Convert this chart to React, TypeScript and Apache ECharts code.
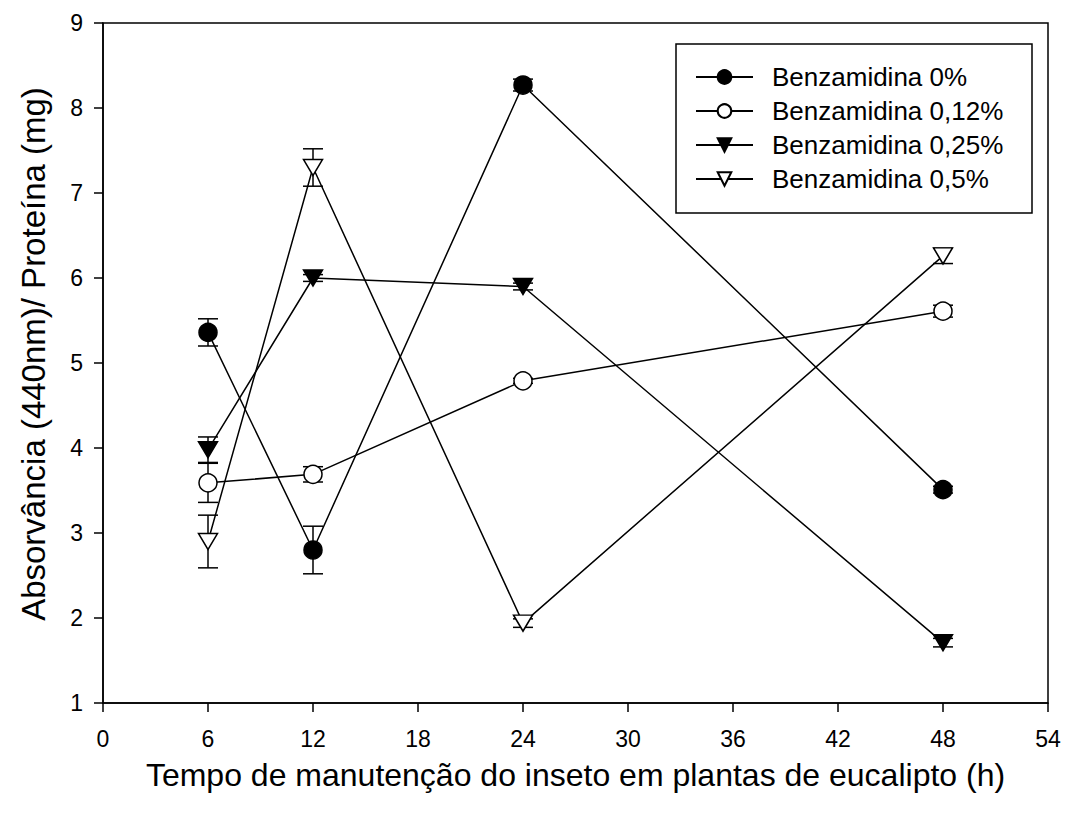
import React, { useEffect, useRef } from "react";
import * as echarts from "echarts";

// Sampling times (h)
const times = [6, 12, 24, 48];

// Absorbance / protein means and standard errors per benzamidine dose
const mean0 = [5.36, 2.8, 8.27, 3.51];
const err0 = [0.16, 0.28, 0.07, 0.04];
const mean012 = [3.59, 3.69, 4.79, 5.61];
const err012 = [0.23, 0.09, 0.03, 0.07];
const mean025 = [3.98, 6.0, 5.9, 1.71];
const err025 = [0.15, 0.04, 0.04, 0.05];
const mean05 = [2.9, 7.3, 1.94, 6.26];
const err05 = [0.31, 0.22, 0.05, 0.09];

const seriesNames = [
  "Benzamidina 0%",
  "Benzamidina 0,12%",
  "Benzamidina 0,25%",
  "Benzamidina 0,5%",
];

const xTicks = [0, 6, 12, 18, 24, 30, 36, 42, 48, 54];
const yTicks = [1, 2, 3, 4, 5, 6, 7, 8, 9];

const FONT = "'Liberation Sans', Arial, Helvetica, sans-serif";
const TRI_DOWN = "path://M0,0 L20,0 L10,17 Z";

export default function App() {
  const ref = useRef<HTMLDivElement>(null);

  useEffect(() => {
    if (!ref.current) return;
    const chart = echarts.init(ref.current, undefined, { renderer: "svg" });

    const groups = [
      { name: seriesNames[0], mean: mean0, err: err0, symbol: "circle", size: 18, fill: "#000" },
      { name: seriesNames[1], mean: mean012, err: err012, symbol: "circle", size: 18, fill: "#fff" },
      { name: seriesNames[2], mean: mean025, err: err025, symbol: TRI_DOWN, size: [19, 16], fill: "#000" },
      { name: seriesNames[3], mean: mean05, err: err05, symbol: TRI_DOWN, size: [19, 16], fill: "#fff" },
    ];

    // Vertical error bars with caps, drawn under the markers
    const errorSeries = groups.map((g) => ({
      type: "custom",
      name: g.name + " erro",
      z: 1,
      silent: true,
      encode: { x: 0, y: 1 },
      data: times.map((t, i) => [t, g.mean[i], g.err[i]]),
      renderItem: (params: any, api: any) => {
        const x = api.value(0);
        const y = api.value(1);
        const e = api.value(2);
        const top = api.coord([x, y + e]);
        const bot = api.coord([x, y - e]);
        const half = 10;
        const style = { stroke: "#000", lineWidth: 1.5 };
        return {
          type: "group",
          children: [
            { type: "line", shape: { x1: top[0], y1: top[1], x2: bot[0], y2: bot[1] }, style },
            { type: "line", shape: { x1: top[0] - half, y1: top[1], x2: top[0] + half, y2: top[1] }, style },
            { type: "line", shape: { x1: bot[0] - half, y1: bot[1], x2: bot[0] + half, y2: bot[1] }, style },
          ],
        };
      },
    }));

    const lineSeries = groups.map((g) => ({
      type: "line",
      name: g.name,
      z: 3,
      data: times.map((t, i) => [t, g.mean[i]]),
      symbol: g.symbol,
      symbolSize: g.size,
      showAllSymbol: true,
      lineStyle: { color: "#000", width: 1.5 },
      itemStyle: { color: g.fill, borderColor: "#000", borderWidth: 1.5 },
    }));

    chart.setOption({
      animation: false,
      backgroundColor: "#fff",
      textStyle: { fontFamily: FONT },
      grid: {
        left: 103,
        top: 23,
        right: 18,
        bottom: 111,
        show: true,
        borderColor: "#000",
        borderWidth: 1.5,
        backgroundColor: "transparent",
      },
      xAxis: {
        type: "value",
        min: xTicks[0],
        max: xTicks[xTicks.length - 1],
        interval: 6,
        name: "Tempo de manutenção do inseto em plantas de eucalipto (h)",
        nameLocation: "middle",
        nameGap: 56,
        nameTextStyle: { fontSize: 32, color: "#000", fontFamily: FONT },
        axisLine: { lineStyle: { color: "#000", width: 1.5 } },
        axisTick: { inside: false, length: 9, lineStyle: { color: "#000", width: 1.5 } },
        axisLabel: { fontSize: 23, color: "#000", margin: 24, fontFamily: FONT },
        splitLine: { show: false },
      },
      yAxis: {
        type: "value",
        min: yTicks[0],
        max: yTicks[yTicks.length - 1],
        interval: 1,
        name: "Absorvância (440nm)/ Proteína (mg)",
        nameLocation: "middle",
        nameGap: 53,
        nameTextStyle: { fontSize: 33, color: "#000", fontFamily: FONT, padding: [0, 0, 0, 18] },
        axisLine: { lineStyle: { color: "#000", width: 1.5 } },
        axisTick: { inside: false, length: 9, lineStyle: { color: "#000", width: 1.5 } },
        axisLabel: { fontSize: 23, color: "#000", margin: 20, fontFamily: FONT },
        splitLine: { show: false },
      },
      legend: {
        data: seriesNames,
        orient: "vertical",
        left: 695,
        top: 64,
        padding: 0,
        itemWidth: 57,
        itemHeight: 17,
        itemGap: 8,
        textStyle: { fontSize: 26, color: "#000", fontFamily: FONT, lineHeight: 26, padding: [0, 0, 0, 14] },
        selectedMode: false,
      },
      graphic: [
        {
          type: "rect",
          shape: { x: 676, y: 44, width: 356, height: 169 },
          style: { fill: "none", stroke: "#000", lineWidth: 1.5 },
          z: 10,
        },
      ],
      series: [...errorSeries, ...lineSeries],
    });

    return () => chart.dispose();
  }, []);

  return (
    <div
      ref={ref}
      style={{ position: "absolute", left: 0, top: 0, width: 1066, height: 814 }}
    />
  );
}
